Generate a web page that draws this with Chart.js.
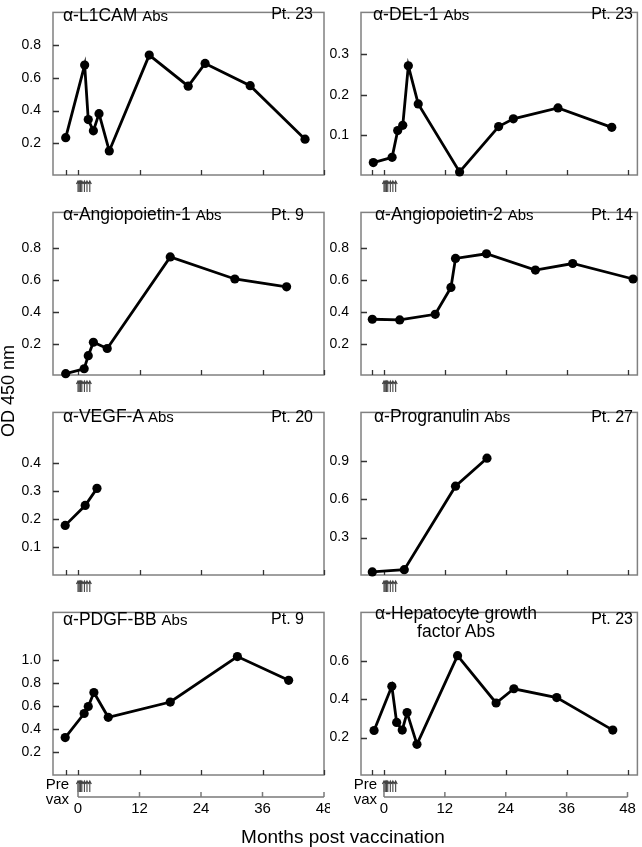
<!DOCTYPE html>
<html>
<head>
<meta charset="utf-8">
<title>Antibody responses after vaccination</title>
<script src="https://cdn.jsdelivr.net/npm/chart.js@4.4.1/dist/chart.umd.min.js"></script>
<style>
  html, body { margin: 0; padding: 0; background: #fff; }
  #fig { position: relative; width: 642px; height: 847px; overflow: hidden;
         font-family: 'Liberation Sans', Arial, sans-serif; color: #000; }
  #fig canvas { position: absolute; }
  .lbl { position: absolute; white-space: nowrap; line-height: 1; }
  .ttl { font-size: 17.5px; }
  .ttl small { font-size: 15px; }
  .pt { font-size: 16px; }
  .prevax { font-size: 15px; line-height: 14.5px; text-align: right; }
  #ylab { font-size: 18px; line-height: 18px; width: 140px; text-align: center; transform: rotate(-90deg); }
  #xlab { font-size: 19px; width: 300px; text-align: center; }
</style>
</head>
<body>
<div id="fig">
  <div class="lbl ttl" style="left:63px;top:7px">α-L1CAM <small>Abs</small></div>
  <div class="lbl pt" style="right:329px;top:6px">Pt. 23</div>
  <div class="lbl ttl" style="left:373px;top:6px">α-DEL-1 <small>Abs</small></div>
  <div class="lbl pt" style="right:9px;top:6px">Pt. 23</div>

  <div class="lbl ttl" style="left:63px;top:206px">α-Angiopoietin-1 <small>Abs</small></div>
  <div class="lbl pt" style="right:338px;top:207px">Pt. 9</div>
  <div class="lbl ttl" style="left:375px;top:206px">α-Angiopoietin-2 <small>Abs</small></div>
  <div class="lbl pt" style="right:9px;top:207px">Pt. 14</div>

  <div class="lbl ttl" style="left:63px;top:408px">α-VEGF-A <small>Abs</small></div>
  <div class="lbl pt" style="right:329px;top:409px">Pt. 20</div>
  <div class="lbl ttl" style="left:374px;top:408px">α-Progranulin <small>Abs</small></div>
  <div class="lbl pt" style="right:9px;top:409px">Pt. 27</div>

  <div class="lbl ttl" style="left:63px;top:611px">α-PDGF-BB <small>Abs</small></div>
  <div class="lbl pt" style="right:338px;top:611px">Pt. 9</div>
  <div class="lbl ttl" style="left:356px;top:604px;width:200px;text-align:center;line-height:18px">α-Hepatocyte growth<br>factor Abs</div>
  <div class="lbl pt" style="right:9px;top:611px">Pt. 23</div>

  <div class="lbl prevax" style="right:573px;top:777px">Pre<br>vax</div>
  <div class="lbl prevax" style="right:265px;top:777px">Pre<br>vax</div>

  <div class="lbl" id="ylab" style="left:-62px;top:382px">OD 450 nm</div>
  <div class="lbl" id="xlab" style="left:193px;top:827px">Months post vaccination</div>
</div>

<script>
'use strict';

// x axis (months)
const PREVAX = -2.4;
const boxTickMonths = [PREVAX, 0, 12, 24, 36, 48];
const bottomAxisMonths = [0, 12, 24, 36, 48];
const vaxMonths = [0, 0.25, 0.5, 0.75, 1.25, 1.75, 2.3];
const leftMonthRange = [-4.88, 48];
const rightMonthRange = [-4.53, 49.95];

// α-L1CAM, Pt. 23
const l1camMonths = [-2.4, 1.3, 2.0, 3.0, 4.1, 6.1, 13.9, 21.5, 24.8, 33.6, 44.3];
const l1camOD = [0.234, 0.678, 0.345, 0.276, 0.381, 0.153, 0.739, 0.549, 0.688, 0.552, 0.225];
const l1camTicks = [0.2, 0.4, 0.6, 0.8];
const l1camRange = [0.006, 1.0];

// α-DEL-1, Pt. 23
const del1Months = [-2.1, 1.6, 2.7, 3.7, 4.8, 6.75, 14.9, 22.6, 25.5, 34.3, 44.9];
const del1OD = [0.033, 0.046, 0.112, 0.125, 0.272, 0.178, 0.010, 0.122, 0.141, 0.168, 0.120];
const del1Ticks = [0.1, 0.2, 0.3];
const del1Range = [0.0023, 0.404];

// α-Angiopoietin-1, Pt. 9
const ang1Months = [-2.4, 1.2, 2.0, 3.0, 5.7, 18.0, 30.6, 40.7];
const ang1OD = [0.013, 0.044, 0.126, 0.210, 0.171, 0.744, 0.606, 0.557];
const ang1Ticks = [0.2, 0.4, 0.6, 0.8];
const ang1Range = [0.005, 1.023];

// α-Angiopoietin-2, Pt. 14
const ang2Months = [-2.3, 3.1, 10.1, 13.2, 14.1, 20.2, 29.85, 37.2, 49.1];
const ang2OD = [0.354, 0.350, 0.385, 0.553, 0.735, 0.764, 0.662, 0.703, 0.606];
const ang2Ticks = [0.2, 0.4, 0.6, 0.8];
const ang2Range = [0.005, 1.023];

// α-VEGF-A, Pt. 20
const vegfMonths = [-2.5, 1.4, 3.7];
const vegfOD = [0.177, 0.248, 0.309];
const vegfTicks = [0.1, 0.2, 0.3, 0.4];
const vegfRange = [0, 0.58];

// α-Progranulin, Pt. 27
const pgrnMonths = [-2.3, 4.0, 14.1, 20.3];
const pgrnOD = [0.030, 0.048, 0.704, 0.924];
const pgrnTicks = [0.3, 0.6, 0.9];
const pgrnRange = [0.006, 1.284];

// α-PDGF-BB, Pt. 9
const pdgfMonths = [-2.5, 1.2, 2.0, 3.1, 5.9, 18.0, 31.1, 41.1];
const pdgfOD = [0.328, 0.537, 0.598, 0.720, 0.504, 0.637, 1.033, 0.826];
const pdgfTicks = [0.2, 0.4, 0.6, 0.8, 1.0];
const pdgfRange = [0.002, 1.417];

// α-Hepatocyte growth factor, Pt. 23
const hgfMonths = [-1.95, 1.55, 2.5, 3.6, 4.55, 6.5, 14.5, 22.1, 25.6, 34.05, 45.1];
const hgfOD = [0.237, 0.467, 0.279, 0.239, 0.330, 0.165, 0.626, 0.380, 0.454, 0.408, 0.239];
const hgfTicks = [0.2, 0.4, 0.6];
const hgfRange = [0.0056, 0.851];

const FONT = "'Liberation Sans', Arial, sans-serif";

const COLS = [
  { left: 0, width: 330, axisW: 53, padRight: 6, range: leftMonthRange },
  { left: 320, width: 322, axisW: 41, padRight: 1, range: rightMonthRange },
];

const panels = [
  { row: 0, col: 0, months: l1camMonths, od: l1camOD, ticks: l1camTicks, range: l1camRange },
  { row: 0, col: 1, months: del1Months, od: del1OD, ticks: del1Ticks, range: del1Range },
  { row: 1, col: 0, months: ang1Months, od: ang1OD, ticks: ang1Ticks, range: ang1Range },
  { row: 1, col: 1, months: ang2Months, od: ang2OD, ticks: ang2Ticks, range: ang2Range },
  { row: 2, col: 0, months: vegfMonths, od: vegfOD, ticks: vegfTicks, range: vegfRange },
  { row: 2, col: 1, months: pgrnMonths, od: pgrnOD, ticks: pgrnTicks, range: pgrnRange },
  { row: 3, col: 0, months: pdgfMonths, od: pdgfOD, ticks: pdgfTicks, range: pdgfRange },
  { row: 3, col: 1, months: hgfMonths, od: hgfOD, ticks: hgfTicks, range: hgfRange },
];

// frame, inward ticks, vaccination arrows and the shared month axis under the last row
const decor = {
  id: 'decor',
  beforeDatasetsDraw(chart, args, opts) {
    const { ctx, chartArea: a, scales: { x, y } } = chart;
    ctx.save();
    ctx.strokeStyle = '#808080';
    ctx.lineWidth = 1.5;
    ctx.strokeRect(a.left, a.top, a.right - a.left, a.bottom - a.top);

    ctx.strokeStyle = '#333';
    ctx.lineWidth = 1.3;
    ctx.beginPath();
    boxTickMonths.forEach(m => {
      const px = Math.round(x.getPixelForValue(m)) + 0.5;
      ctx.moveTo(px, a.bottom);
      ctx.lineTo(px, a.bottom - 5);
    });
    opts.ticks.forEach(v => {
      const py = Math.round(y.getPixelForValue(v)) + 0.5;
      ctx.moveTo(a.left, py);
      ctx.lineTo(a.left + 6, py);
    });
    ctx.stroke();

    // vaccination arrows
    ctx.strokeStyle = '#444';
    ctx.lineWidth = 1.1;
    ctx.beginPath();
    vaxMonths.forEach(m => {
      const px = x.getPixelForValue(m);
      const top = a.bottom + 6, bot = a.bottom + 17;
      ctx.moveTo(px, bot);
      ctx.lineTo(px, top);
      ctx.moveTo(px - 1.6, top + 3);
      ctx.lineTo(px, top);
      ctx.lineTo(px + 1.6, top + 3);
    });
    ctx.stroke();

    if (opts.bottomAxis) {
      const yl = a.bottom + 22;
      const x0 = x.getPixelForValue(bottomAxisMonths[0]);
      const x1 = x.getPixelForValue(bottomAxisMonths[bottomAxisMonths.length - 1]);
      ctx.strokeStyle = '#7a7a7a';
      ctx.lineWidth = 1.5;
      ctx.beginPath();
      ctx.moveTo(x0, yl);
      ctx.lineTo(x1, yl);
      bottomAxisMonths.forEach((m, i) => {
        const px = x.getPixelForValue(m);
        ctx.moveTo(px, yl);
        ctx.lineTo(px, yl - (i === 0 ? 14 : 5));
      });
      ctx.stroke();
      ctx.fillStyle = '#000';
      ctx.font = `15px ${FONT}`;
      ctx.textAlign = 'center';
      ctx.textBaseline = 'alphabetic';
      bottomAxisMonths.forEach(m => {
        ctx.fillText(String(m), x.getPixelForValue(m), yl + 16);
      });
    }
    ctx.restore();
  }
};

const fig = document.getElementById('fig');

panels.forEach(p => {
  const col = COLS[p.col];
  const top = 200 * p.row;
  const height = p.row === 3 ? 847 - top : 200;
  const canvas = document.createElement('canvas');
  canvas.width = col.width;
  canvas.height = height;
  canvas.style.left = col.left + 'px';
  canvas.style.top = top + 'px';
  fig.insertBefore(canvas, fig.firstChild);

  new Chart(canvas, {
    type: 'line',
    data: {
      datasets: [{
        data: p.months.map((m, i) => ({ x: m, y: p.od[i] })),
        borderColor: '#000',
        borderWidth: 2.8,
        pointRadius: 4.6,
        pointBackgroundColor: '#000',
        pointBorderWidth: 0,
        tension: 0,
        clip: false,
      }],
    },
    options: {
      responsive: false,
      animation: false,
      events: [],
      layout: { padding: { top: 1, right: col.padRight, bottom: height - 175, left: 0 } },
      plugins: {
        legend: { display: false },
        tooltip: { enabled: false },
        decor: { ticks: p.ticks, bottomAxis: p.row === 3 },
      },
      scales: {
        x: { type: 'linear', display: false, min: col.range[0], max: col.range[1] },
        y: {
          min: p.range[0],
          max: p.range[1],
          afterBuildTicks: s => { s.ticks = p.ticks.map(v => ({ value: v })); },
          afterFit: s => { s.width = col.axisW; },
          grid: { display: false },
          border: { display: false },
          ticks: {
            padding: 4,
            color: '#000',
            font: { size: 14, family: FONT },
            callback: v => v.toFixed(1),
          },
        },
      },
    },
    plugins: [decor],
  });
});
</script>
</body>
</html>
